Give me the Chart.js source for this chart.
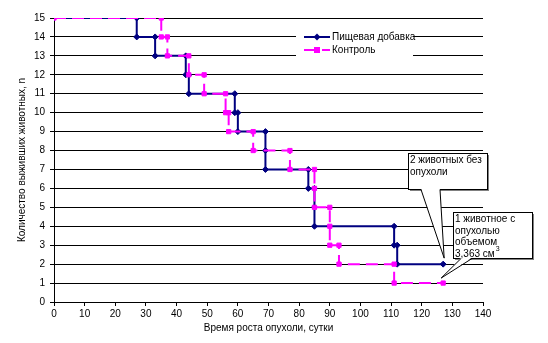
<!DOCTYPE html>
<html>
<head>
<meta charset="utf-8">
<script src="https://cdn.jsdelivr.net/npm/chart.js@4"></script>
<style>
  html, body { margin: 0; padding: 0; background: #fff; }
  #chart { display: block; }
</style>
</head>
<body>
<canvas id="chart" width="548" height="343"></canvas>
<script>
// ---- data ----
const seriesNames = ["Пищевая добавка", "Контроль"];
const foodDays  = [0, 27, 27, 33, 33, 43, 43, 44, 44, 59, 59, 60, 60, 69, 69, 69, 83, 83, 85, 85, 85, 111, 111, 112, 112, 127];
const foodAlive = [15, 15, 14, 14, 13, 13, 12, 12, 11, 11, 10, 10, 9, 9, 8, 7, 7, 6, 6, 5, 4, 4, 3, 3, 2, 2];
const ctrlDays  = [0, 35, 35, 37, 37, 44, 44, 49, 49, 56, 56, 57, 57, 65, 65, 77, 77, 85, 85, 85, 90, 90, 90, 93, 93, 111, 111, 127];
const ctrlAlive = [15, 15, 14, 14, 13, 13, 12, 12, 11, 11, 10, 10, 9, 9, 8, 8, 7, 7, 6, 5, 5, 4, 3, 3, 2, 2, 1, 1];
const xTicks = [0, 10, 20, 30, 40, 50, 60, 70, 80, 90, 100, 110, 120, 130, 140];
const yTicks = [0, 1, 2, 3, 4, 5, 6, 7, 8, 9, 10, 11, 12, 13, 14, 15];
const callouts = [
  { x: 127, y: 2, lines: ["2 животных без", "опухоли"] },
  { x: 127, y: 1, lines: ["1 животное с", "опухолью", "объемом", "3,363 см"], sup: "3" }
];

const NAVY = "#000080";
const PINK = "#FF00FF";
const FONT = "'Liberation Sans', Arial, sans-serif";

const toPoints = (xs, ys) => xs.map((x, i) => ({ x, y: ys[i] }));

// legend drawn inside the plot, Excel style
const legendPlugin = {
  id: "innerLegend",
  afterDatasetsDraw(chart) {
    const c = chart.ctx;
    const bx = 296, by = 29, bw = 117, bh = 27;
    c.save();
    c.fillStyle = "#fff";
    c.fillRect(bx, by, bw, bh);
    c.font = "10px " + FONT;
    c.textBaseline = "middle";
    chart.data.datasets.forEach((ds, i) => {
      const y = 37 + i * 13;
      c.strokeStyle = ds.borderColor;
      c.lineWidth = 2;
      c.setLineDash(ds.borderDash || []);
      c.beginPath();
      c.moveTo(304, y);
      c.lineTo(330, y);
      c.stroke();
      c.setLineDash([]);
      c.fillStyle = ds.borderColor;
      c.beginPath();
      if (ds.pointStyle === "rectRot") {
        c.moveTo(317, y - 3.5); c.lineTo(320.5, y); c.lineTo(317, y + 3.5); c.lineTo(313.5, y);
      } else {
        c.rect(314, y - 3, 6, 6);
      }
      c.closePath();
      c.fill();
      c.fillStyle = "#000";
      c.fillText(ds.label, 332, y);
    });
    c.restore();
  }
};

// callout boxes pointing at the last points
const calloutPlugin = {
  id: "callouts",
  afterDatasetsDraw(chart) {
    const c = chart.ctx;
    const xs = chart.scales.x, ys = chart.scales.y;
    const boxes = [
      { bx: 408, by: 153, bw: 79, bh: 36, w1: 421, w2: 440, dx: 1, dy: -6 },
      { bx: 453, by: 212, bw: 79, bh: 46, w1: 461, w2: 472, dx: -2, dy: -5 }
    ];
    c.save();
    callouts.forEach((co, i) => {
      const b = boxes[i];
      const tx = xs.getPixelForValue(co.x) + b.dx;
      const ty = ys.getPixelForValue(co.y) + b.dy;
      // shadow
      c.fillStyle = "#808080";
      c.fillRect(b.bx + 2, b.by + 2, b.bw, b.bh);
      c.fillStyle = "#fff";
      c.fillRect(b.bx, b.by, b.bw, b.bh);
      c.strokeStyle = "#000";
      c.lineWidth = 1;
      c.strokeRect(b.bx + 0.5, b.by + 0.5, b.bw, b.bh);
      // wedge
      const bot = b.by + b.bh + 0.5;
      c.beginPath();
      c.moveTo(b.w1, bot - 1);
      c.lineTo(tx, ty);
      c.lineTo(b.w2, bot - 1);
      c.closePath();
      c.fill();
      c.beginPath();
      c.moveTo(b.w1, bot);
      c.lineTo(tx, ty);
      c.lineTo(b.w2, bot);
      c.stroke();
      // text
      c.fillStyle = "#000";
      c.textBaseline = "middle";
      co.lines.forEach((t, j) => {
        const ly = b.by + 7 + j * 11.8;
        c.font = "10px " + FONT;
        c.fillText(t, b.bx + 2, ly);
        if (co.sup && j === co.lines.length - 1) {
          const w = c.measureText(t).width;
          c.font = "7px " + FONT;
          c.fillText(co.sup, b.bx + 3 + w, ly - 5);
        }
      });
    });
    c.restore();
  }
};

new Chart(document.getElementById("chart"), {
  type: "scatter",
  data: {
    datasets: [
      {
        label: seriesNames[0],
        data: toPoints(foodDays, foodAlive),
        showLine: true,
        borderColor: NAVY,
        backgroundColor: NAVY,
        borderWidth: 2,
        pointStyle: "rectRot",
        pointRadius: 3,
        pointBorderWidth: 1,
        order: 2
      },
      {
        label: seriesNames[1],
        data: toPoints(ctrlDays, ctrlAlive),
        showLine: true,
        borderColor: PINK,
        backgroundColor: PINK,
        borderWidth: 2,
        borderDash: [12, 6],
        pointStyle: "rect",
        pointRadius: 3,
        pointBorderWidth: 1,
        order: 1
      }
    ]
  },
  options: {
    responsive: false,
    animation: false,
    layout: { padding: { left: 0, top: 18, right: 65, bottom: 0 } },
    plugins: {
      legend: { display: false },
      tooltip: { enabled: false }
    },
    scales: {
      x: {
        type: "linear",
        min: 0,
        max: 140,
        afterBuildTicks: s => { s.ticks = xTicks.map(v => ({ value: v })); },
        afterFit: s => { s.height = 41; },
        grid: { drawOnChartArea: false, drawTicks: true, tickLength: 4, color: "#000" },
        border: { color: "#000", width: 1 },
        ticks: { color: "#000", font: { family: FONT, size: 10 }, padding: 2, maxRotation: 0 },
        title: {
          display: true,
          text: "Время роста опухоли, сутки",
          color: "#000",
          font: { family: FONT, size: 10 },
          padding: { top: 0, bottom: 9 }
        }
      },
      y: {
        min: 0,
        max: 15,
        afterBuildTicks: s => { s.ticks = yTicks.map(v => ({ value: v })); },
        afterFit: s => { s.width = 54; },
        grid: { color: "#000", lineWidth: 1, tickLength: 4 },
        border: { color: "#000", width: 1 },
        ticks: { color: "#000", font: { family: FONT, size: 10 }, padding: 5 },
        title: {
          display: true,
          text: "Количество выживших животных, n",
          color: "#000",
          font: { family: FONT, size: 10 },
          padding: { top: 16, bottom: 0 }
        }
      }
    }
  },
  plugins: [legendPlugin, calloutPlugin]
});
</script>
</body>
</html>
